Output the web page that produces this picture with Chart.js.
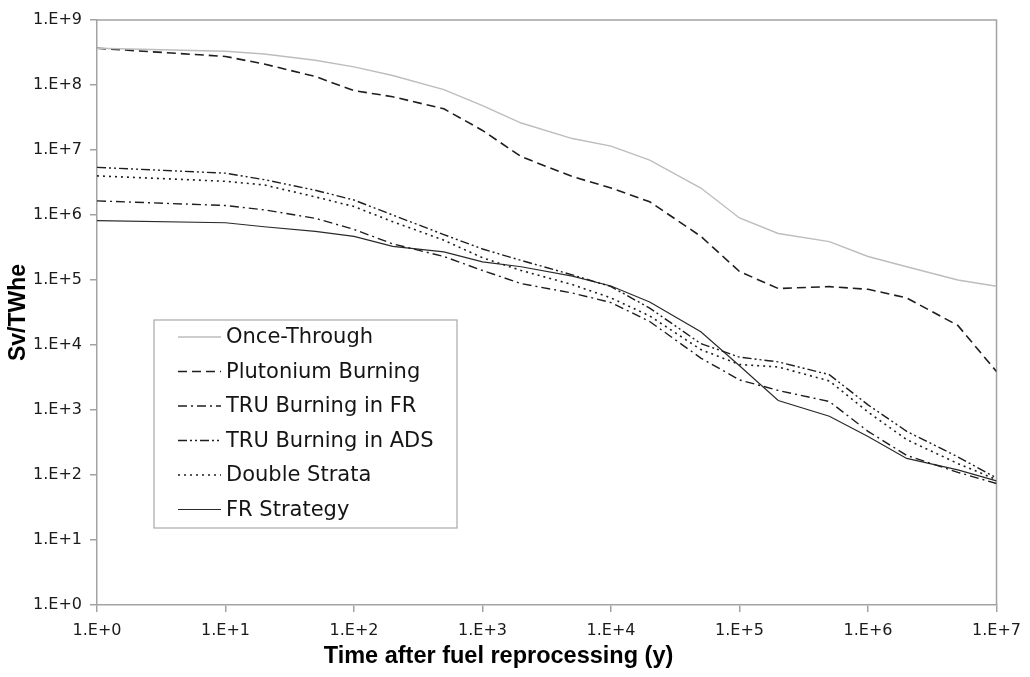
<!DOCTYPE html>
<html>
<head>
<meta charset="utf-8">
<script src="https://cdn.jsdelivr.net/npm/chart.js@4.4.1/dist/chart.umd.min.js"></script>
<style>
  html,body{margin:0;padding:0;background:#fff;}
  #chart{display:block;}
</style>
</head>
<body>
<canvas id="chart" width="1030" height="677"></canvas>
<script>
// ---- DATA ----
const years = [1, 10, 20, 50, 100, 200, 500, 1e3, 2e3, 5e3, 1e4, 2e4, 5e4, 1e5, 2e5, 5e5, 1e6, 2e6, 5e6, 1e7];

const onceThrough   = [3.67e8, 3.3e8, 3.0e8, 2.4e8, 1.9e8, 1.4e8, 8.5e7, 4.8e7, 2.6e7, 1.5e7, 1.15e7, 7e6, 2.6e6, 9e5, 5.2e5, 3.9e5, 2.3e5, 1.6e5, 1.0e5, 8e4];
const plutonium     = [3.67e8, 2.75e8, 2.1e8, 1.35e8, 8.2e7, 6.6e7, 4.3e7, 2.0e7, 7.9e6, 3.9e6, 2.6e6, 1.6e6, 4.7e5, 1.35e5, 7.4e4, 7.9e4, 7.2e4, 5.3e4, 2.0e4, 3.9e3];
const truFR         = [1.65e6, 1.4e6, 1.2e6, 8.9e5, 6.0e5, 3.6e5, 2.3e5, 1.4e5, 8.8e4, 6.3e4, 4.5e4, 2.3e4, 6.3e3, 2.9e3, 2.0e3, 1.35e3, 470, 200, 110, 74];
const truADS        = [5.4e6, 4.4e6, 3.5e6, 2.4e6, 1.7e6, 1.0e6, 5.0e5, 3.0e5, 2.0e5, 1.2e5, 7.9e4, 3.7e4, 1.05e4, 6.5e3, 5.5e3, 3.5e3, 1.2e3, 470, 190, 90];
const doubleStrata  = [4.0e6, 3.3e6, 2.9e6, 1.9e6, 1.35e6, 7.9e5, 4.1e5, 2.2e5, 1.4e5, 8.5e4, 5.3e4, 2.8e4, 8.5e3, 5.0e3, 4.6e3, 2.8e3, 930, 350, 150, 85];
const frStrategy    = [8.2e5, 7.6e5, 6.6e5, 5.6e5, 4.7e5, 3.3e5, 2.7e5, 1.9e5, 1.6e5, 1.15e5, 8.1e4, 4.6e4, 1.6e4, 4.8e3, 1.4e3, 800, 390, 180, 120, 81];

const xTicks = [1, 10, 100, 1e3, 1e4, 1e5, 1e6, 1e7];
const yTicks = [1, 10, 100, 1e3, 1e4, 1e5, 1e6, 1e7, 1e8, 1e9];

// ---- ESTILOS ----
const TEXT_FONT = '"DejaVu Sans", sans-serif';
const TITLE_FONT = '"Liberation Sans", Arial, sans-serif';
const AXIS_GRAY = '#a3a3a3';

const series = [
  {label:'Once-Through',        data:onceThrough,  color:'#bdbdbd', width:1.4, dash:[]},
  {label:'Plutonium Burning',   data:plutonium,    color:'#1e1e1e', width:1.6, dash:[9,5]},
  {label:'TRU Burning in FR',   data:truFR,        color:'#1e1e1e', width:1.4, dash:[9,4,2,4]},
  {label:'TRU Burning in ADS',  data:truADS,       color:'#1e1e1e', width:1.4, dash:[9,3,2,3,2,3]},
  {label:'Double Strata',       data:doubleStrata, color:'#1e1e1e', width:1.6, dash:[2,4]},
  {label:'FR Strategy',         data:frStrategy,   color:'#2a2a2a', width:1.2, dash:[]}
];

const datasets = series.map(s => ({
  label:s.label,
  data:years.map((y,i) => ({x:y, y:s.data[i]})),
  borderColor:s.color,
  borderWidth:s.width,
  borderDash:s.dash,
  pointRadius:0,
  fill:false,
  tension:0
}));

function expLabel(v){
  return '1.E+' + Math.round(Math.log10(v));
}

// ---- PLUGINS ----
const frame = {
  id:'frame',
  beforeDatasetsDraw(chart){
    const {ctx, chartArea:a} = chart;
    ctx.save();
    ctx.strokeStyle = AXIS_GRAY;
    ctx.lineWidth = 1.5;
    ctx.beginPath();
    ctx.moveTo(a.left, a.top);
    ctx.lineTo(a.right, a.top);
    ctx.lineTo(a.right, a.bottom);
    ctx.stroke();
    ctx.restore();
  }
};

const boxLegend = {
  id:'boxLegend',
  afterDraw(chart){
    const ctx = chart.ctx;
    const bx = 154, by = 320, bw = 303, bh = 208;
    ctx.save();
    ctx.fillStyle = '#fff';
    ctx.fillRect(bx, by, bw, bh);
    ctx.strokeStyle = '#a8a8a8';
    ctx.lineWidth = 1.2;
    ctx.strokeRect(bx, by, bw, bh);
    ctx.font = '21px ' + TEXT_FONT;
    ctx.textBaseline = 'middle';
    chart.data.datasets.forEach((d, i) => {
      const y = by + 17 + i * 34.5;
      ctx.strokeStyle = d.borderColor;
      ctx.lineWidth = d.borderWidth;
      ctx.setLineDash(d.borderDash);
      ctx.beginPath();
      ctx.moveTo(178, y);
      ctx.lineTo(221, y);
      ctx.stroke();
      ctx.setLineDash([]);
      ctx.fillStyle = '#151515';
      ctx.fillText(d.label, 226, y + 1);
    });
    ctx.restore();
  }
};

// ---- GRAFICO ----
new Chart(document.getElementById('chart').getContext('2d'), {
  type:'line',
  data:{datasets},
  options:{
    responsive:false,
    animation:false,
    layout:{padding:{top:20, right:33, left:0, bottom:0}},
    plugins:{
      legend:{display:false},
      tooltip:{enabled:false},
      title:{
        display:true,
        position:'bottom',
        text:'Time after fuel reprocessing (y)',
        color:'#000',
        font:{family:TITLE_FONT, size:23.5, weight:'bold'},
        padding:{top:3, bottom:6}
      }
    },
    scales:{
      x:{
        type:'logarithmic',
        min:1, max:1e7,
        afterBuildTicks:s => { s.ticks = xTicks.map(v => ({value:v})); },
        afterFit:s => { s.height = 34.8; },
        ticks:{
          color:'#1a1a1a',
          font:{family:TEXT_FONT, size:16},
          padding:9,
          maxRotation:0,
          autoSkip:false,
          callback:v => expLabel(v)
        },
        grid:{drawOnChartArea:false, drawTicks:true, tickLength:7, color:AXIS_GRAY, lineWidth:1.5},
        border:{color:AXIS_GRAY, width:1.5}
      },
      y:{
        type:'logarithmic',
        min:1, max:1e9,
        afterBuildTicks:s => { s.ticks = yTicks.map(v => ({value:v})); },
        afterFit:s => { s.width = 97; },
        ticks:{
          color:'#1a1a1a',
          font:{family:TEXT_FONT, size:16},
          padding:8,
          autoSkip:false,
          callback:v => expLabel(v)
        },
        title:{
          display:true,
          text:'Sv/TWhe',
          color:'#000',
          font:{family:TITLE_FONT, size:23, weight:'bold'},
          padding:{top:5, bottom:0}
        },
        grid:{drawOnChartArea:false, drawTicks:true, tickLength:7, color:AXIS_GRAY, lineWidth:1.5},
        border:{color:AXIS_GRAY, width:1.5}
      }
    }
  },
  plugins:[frame, boxLegend]
});
</script>
</body>
</html>
